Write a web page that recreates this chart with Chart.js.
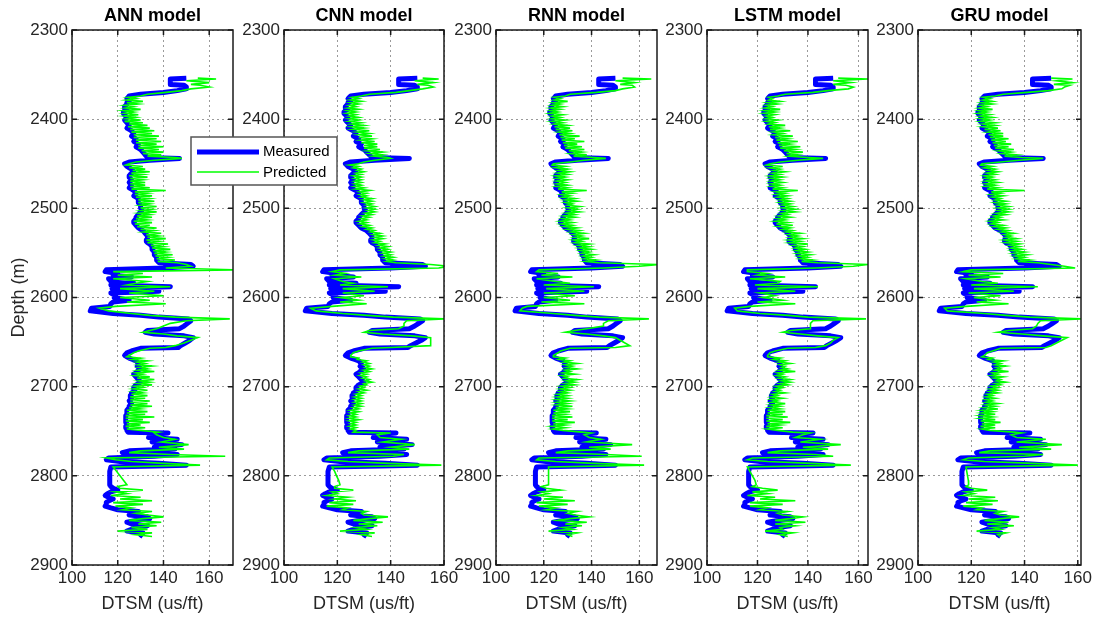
<!DOCTYPE html>
<html>
<head>
<meta charset="utf-8">
<script src="https://cdn.jsdelivr.net/npm/chart.js"></script>
<style>
  html, body { margin: 0; padding: 0; background: #fff; }
  #wrap { position: relative; width: 1095px; height: 617px; overflow: hidden; }
  #wrap canvas { position: absolute; left: 0; top: 0; }
</style>
</head>
<body>
<div id="wrap"></div>
<script>
const models = ["ANN model", "CNN model", "RNN model", "LSTM model", "GRU model"];
const depthTicks = [2300, 2400, 2500, 2600, 2700, 2800, 2900];
const dtsmTicks = [100, 120, 140, 160];
const dtsmMax = [170.4, 160, 167.4, 163.8, 161.2];

// depth (m) of every sample, shared by all curves
const depth = [
  // top block
  2354,2355,2357,2359,2361,2362,2364,2366,2368,2370,2372,
  // 2374 - 2561
  2374,2375.5,2377,2378.5,2380,2381.5,2383,2384.5,2386,2387.5,
  2389,2390.5,2392,2393.5,2395,2396.5,2398,2399.5,2401,2402.5,
  2404,2405.5,2407,2408.5,2410,2411.5,2413,2414.5,2416,2417.5,
  2419,2420.5,2422,2423.5,2425,2426.5,2428,2429.5,2431,2432.5,
  2434,2435.5,2437,2438.5,2440,2441.5,2443,
  2444,2446,2448,2450,
  2451.5,2453,2454.5,2456,2457.5,2459,2460.5,2462,2463.5,2465,
  2466.5,2468,2469.5,2471,2472.5,2474,2475.5,2477,2478.5,2480,
  2481.5,2483,2484.5,2486,2487.5,2489,2490.5,2492,2493.5,2495,
  2496.5,2498,2499.5,2501,2502.5,2504,2505.5,2507,2508.5,2510,
  2511.5,2513,2514.5,2516,2517.5,2519,2520.5,2522,2523.5,2525,
  2526.5,2528,2529.5,2531,2532.5,2534,2535.5,2537,2538.5,2540,
  2541.5,2543,2544.5,2546,2547.5,2549,2550.5,2552,2553.5,2555,
  2556.5,2558,2559.5,2561,
  // 2563 - 2656
  2563,2565,2567,2569,2571,2573,2575,2577,2579,2582,
  2584,2586,2588,2590,2593,2595,2598,2600,2603,2605,
  2607,2610,2612,2615,2618,2620,2622,2624,2626,2629,
  2632,2635,2637,2639,2641,2643,2645,2648,2651,2654,
  2656,
  // 2657 - 2751
  2657,2660,2662,2665,
  2666.5,2668,2669.5,2671,2672.5,2674,2675.5,2677,2678.5,2680,
  2681.5,2683,2684.5,2686,2687.5,2689,2690.5,2692,2693.5,2695,
  2696.5,2698,2699.5,2701,2702.5,2704,2705.5,2707,2708.5,2710,
  2711.5,2713,2714.5,2716,2717.5,2719,2720.5,2722,2723.5,2725,
  2726.5,2728,2729.5,2731,2732.5,2734,2735.5,2737,2738.5,2740,
  2741.5,2743,2744.5,2746,2747.5,2749,
  2751,
  // 2752 - 2868
  2752,2754,2757,2759,2762,2765,2768,2770,2772,2774,
  2776,2778,2780,2782,2784,2786,2788,2790,2795,2800,
  2805,2810,2812,2814,2816,2818,2820,2822,2824,2826,
  2828,2830,2832,2834,2836,2838,2840,2842,2844,2846,
  2848,2850,2852,2854,2856,2858,2860,2862,2864,2866,
  2868
];

// measured DTSM (us/ft)
const measured = [
  150,143,143,143,143,149,150,150,146,140,130,
  125,124.5,124,124.5,125,124,124,123.5,123,123,
  124,123,122.5,122.5,123,123.5,124,123.5,123,123.5,
  124,124.5,125,124.5,124,125,126,126.5,127,126.5,
  126,127,128,127.5,127,128,129,128.5,128,129,
  130,130.5,131,131.5,132,132.5,133,
  147,134,125,123,
  123.5,124,125,126,126.5,127,126,125.5,125,125,
  125.5,126,125.5,125,125.5,126,125.5,125,126,127,
  127.5,128,127.5,127,128,129,129,129,129,129.5,
  130,130,130,130.5,130.5,130,129.5,129,128.5,128,
  128,127.5,127,127,127.5,128,128.5,129,130,131,
  131.5,132,132.5,133,133,133,132.5,132.5,133,134,
  134.5,135,135,135,135.5,136,136,136,136.5,137,
  137,137,137.5,138,
  152,153,140,115,114.5,120,118,126,116,117,
  127,117,143,117.5,138,117,119,118.5,125,118,
  117,116.5,108.5,108,118,130,138,151,152,150.5,
  149,147,133,132,136,149,153,151.5,149.5,147.5,
  146.5,
  130,126,124,123,
  124,125,126.5,128,128.5,129,129,128.5,129.5,130,
  129,128.5,128,127,127.5,128,128.5,129,129.5,130,
  129,128,127.5,127,127,127.5,127,126,126,125.5,
  125.5,126,125.5,125,125.5,126,125.5,125,125,124.5,
  124,124,124,124,123.5,123.5,123.5,123.5,123.5,123.5,
  124,124,123.5,123.5,124,124,
  124.5,
  142,134,133.5,146,135,148,136,145,125,122,
  146,136,116,115,121,138,150,117,116.5,116.5,
  116.5,116.5,117,118,120,117,115.5,114.5,116,118,
  116,115,115,114.5,117,120,129,127,125,133,
  134,128,124,126,133,128,126,124,131,130,
  131
];

const annPred = [
  155,163,150,160,152,156,160,152,148,141,133,
  130,124.5,128,124,131,124,129,123,127,123.5,
  130,122.5,127,123,129,123,128,124,130,123,
  131,125,133,124.5,134,125.5,136,126,135,127,
  138,127,137,128,139,128,137,129,140,129,
  138,130.5,140,131,139,133,145,
  148,136,128,125,
  123.5,131,125,132,126.5,134,126,131,125,133,
  125.5,131,125.5,132,125.5,132,125.5,134,126,141,
  127.5,133,127.5,135,128,134,129,136,129,134,
  130,137,130,135,130.5,137,129.5,134,128.5,135,
  128,133,127,135,127.5,134,128.5,137,130,136,
  131.5,139,132.5,138,133,141,132.5,138,133,142,
  134.5,140,135,143,135.5,141,136,144,136.5,142,
  137,145,137.5,146,
  150,152,141,172,118,131,120,135,118,133,
  128,124,143,121,136,125,140,121,134,124,
  141,119,112,116,126,134,145,169,150,143,
  140,137,134,131,140,146,155,152,149,145,
  141,
  134,129,127,125,
  124,130,126.5,133,128.5,132,129,135,129.5,133,
  129,136,128,131,127.5,134,128.5,136,129.5,134,
  129,135,127.5,131,127,133,127,131,126,133,
  125.5,132,125.5,134,125.5,133,125.5,135,125,130,
  124,133,124,132,123.5,136,123.5,131,123.5,134,
  124,130,123.5,132,124,130,
  138,
  136,137,140,145,139,151,138,149,130,125,
  143,167,115,119,126,140,156,118,119.5,121,
  122.5,124,120,121,131,119,124,117,130,121,
  135,118,131,119,126,122,135,128,133,140,
  131,125,139,129,137,126,133,120,135,128,
  135
];

const cnnPred = [
  152,158,149,156,150,154,156,152,147,142,132,
  129,125.5,128,125,129,125,128,124.5,127,124,
  128,124,127,123.5,127,124.5,128,124.5,128,124.5,
  129,125.5,130,125.5,130,126,132,127.5,132,128,
  133,128,133,129,134,129,135,130,135,130,
  136,131.5,137,132.5,137,133.5,139,
  140,134,130,128,
  124.5,128,126,129,127.5,130,127,129,126,129,
  126.5,129,126.5,129,126.5,129,126.5,130,127,132,
  128.5,131,128.5,131,129,133,130,133,130,133,
  131,134,131,134,131.5,134,130.5,133,129.5,132,
  129,131,128,131,128.5,132,129.5,133,131,134,
  132.5,136,133.5,137,134,137,133.5,136,134,138,
  135.5,139,136,139,136.5,140,137,140,137.5,141,
  138,141,138.5,142,
  155,162,158,121,118,123,119,129,119,122,
  126,121,139,122,134,122,130,121,128,121,
  131,118,110,112,122,131,141,160,146,145,
  145,143,132,130,137,148,155,155,155,155,
  140,
  133,128,126,125,
  125,128,127.5,131,129.5,132,130,132,130.5,133,
  130,132,129,131,128.5,131,129.5,132,130.5,133,
  130,131,128.5,130,128,131,128,130,127,129,
  126.5,129,126.5,129,126.5,129,126.5,129,126,128,
  125,128,125,127,124.5,127,124.5,128,124.5,127,
  125,127,124.5,127,125,127,
  126,
  140,135,136,144,137,149,140,147,128,124,
  145,141,117,116,124,139,159,118,119,119.7,
  120.5,121,119,119,126,118,120,116,124,119,
  127,117,126,116,124,122,131,129,130,139,
  132,126,137,128,135,127,131,121,134,129,
  133
];

const rnnPred = [
  153,165,150,158,152,157,158,153,150,142,131,
  129,124.5,127,124.5,130,124,127,123.5,128,123,
  127,123,126,122.5,128,123.5,127,123.5,129,123.5,
  128,124.5,130,124.5,131,125,132,126.5,131,126.5,
  135,127,133,127.5,137,128,134,128.5,136,129,
  137,130.5,136,131.5,138,132.5,141,
  146,137,131,124,
  123.5,129,125,130,126.5,131,126,130,125,129,
  125.5,130,125.5,129,125.5,130,125.5,130,126,138,
  127.5,132,127.5,131,128,133,129,134,129,132,
  130,135,130,134,130.5,135,129.5,133,128.5,133,
  128,131,127,132,127.5,132,128.5,134,130,135,
  131.5,137,132.5,136,133,139,132.5,136,133,139,
  134.5,139,135,140,135.5,139,136,141,136.5,140,
  137,142,137.5,143,
  168,160,145,118,117,126,119,132,117,125,
  131,120,141,121,137,120,133,120,131,119,
  137,113,111,110,124,133,143,164,147,145,
  145,138,133,129,138,145,150,152,154,156,
  150,
  131,127,126,124,
  124,129,126.5,131,128.5,134,129,132,129.5,134,
  129,131,128,133,127.5,130,128.5,134,129.5,133,
  129,133,127.5,131,127,131,127,130,126,130,
  125.5,130,125.5,131,125.5,130,125.5,132,125,130,
  124,131,124,129,123.5,132,123.5,130,123.5,133,
  124,129,123.5,129,124,128,
  136,
  140,137,139,144,138,157,139,148,130,125,
  146,161,118,117,125,141,162,122,122,122,
  122,122,119,121,127,119,122,117,128,120,
  133,117,130,118,125,121,134,130,133,139,
  131,126,138,129,136,128,132,122,134,130,
  132
];

const lstmPred = [
  152,164,150,157,150,155,158,156,148,142,131,
  128,124.5,126,124.5,129,124,128,123.5,126,123,
  129,123,127,122.5,127,123.5,126,123.5,128,123.5,
  127,124.5,131,124.5,129,125,133,126.5,130,126.5,
  134,127,132,127.5,136,128,133,128.5,137,129,
  135,130.5,138,131.5,136,132.5,140,
  146,136,129,125,
  123.5,130,125,129,126.5,131,126,129,125,130,
  125.5,129,125.5,130,125.5,129,125.5,130,126,136,
  127.5,131,127.5,132,128,132,129,133,129,133,
  130,134,130,135,130.5,135,129.5,132,128.5,133,
  128,131,127,132,127.5,134,128.5,133,130,134,
  131.5,137,132.5,136,133,138,132.5,137,133,140,
  134.5,138,135,139,135.5,140,136,141,136.5,140,
  137,142,137.5,144,
  164,158,143,116,116,124,120,131,117,129,
  128,119,144,120,135,121,127,122,130,120,
  135,117,111,112,121,132,140,163,142,141,
  141,141,133,130,137,144,152,150,149,147,
  143,
  132,127,125,124,
  124,129,126.5,131,128.5,133,129,131,129.5,132,
  129,135,128,130,127.5,131,128.5,133,129.5,133,
  129,132,127.5,130,127,129,127,131,126,128,
  125.5,130,125.5,128,125.5,131,125.5,129,125,129,
  124,131,124,130,123.5,132,123.5,130,123.5,133,
  124,129,123.5,130,124,128,
  134,
  141,138,135,145,137,153,138,148,129,124,
  143,150,118,116,124,141,157,116,117,118,
  119,119.5,118,122,128,118,124,116,127,121,
  135,117,130,117,124,121,132,128,130,138,
  133,127,139,127,135,129,130,123,134,129,
  132
];

const gruPred = [
  150,158,152,158,151,157,155,154,149,141,132,
  129,124.5,127,124.5,128,124,128,123.5,126,123,
  128,123,126,122.5,127,123.5,128,123.5,127,123.5,
  129,124.5,129,124.5,130,125,131,126.5,132,126.5,
  132,127,134,127.5,133,128,135,128.5,134,129,
  136,130.5,135,131.5,137,132.5,139,
  147,138,131,124,
  123.5,128,125,129,126.5,130,126,129,125,128,
  125.5,129,125.5,130,125.5,129,125.5,130,126,140,
  127.5,131,127.5,132,128,131,129,133,129,133,
  130,134,130,134,130.5,134,129.5,133,128.5,131,
  128,132,127,130,127.5,132,128.5,133,130,134,
  131.5,136,132.5,135,133,137,132.5,137,133,138,
  134.5,138,135,139,135.5,140,136,141,136.5,140,
  137,142,137.5,145,
  150,155,159,120,117,132,119,131,118,124,
  130,120,145,121,136,119,131,121,129,122,
  134,118,110,111,125,133,142,162,146,145,
  144.5,143,134,130,139,147,156,154,152,150,
  148,
  131,128,126,125,
  124,128,126.5,132,128.5,131,129,133,129.5,131,
  129,134,128,130,127.5,132,128.5,131,129.5,133,
  129,131,127.5,130,127,130,127,130,126,128,
  125.5,129,125.5,128,125.5,130,125.5,129,125,130,
  124,128,124,129,123.5,128,123.5,129,123.5,131,
  124,129,123.5,129,124,127,
  136,
  139,135,137,148,137,154,138,150,127,123,
  147,140,119,117,125,143,160,118,118.3,118.6,
  118.9,119,118,120,126,118,121,117,129,119,
  130,118,128,117,124,122,132,129,131,138,
  131,125,134,126,136,128,131,122,133,130,
  131
];

const predicted = [annPred, cnnPred, rnnPred, lstmPred, gruPred];

// page layout of the five plot boxes
const W = 1095, H = 617;
const plotLeft = [72, 284, 496, 707, 918];
const plotRight = [233, 444, 657, 868, 1081];
const plotTop = 30, plotBottom = 565;
const xAxisH = 50;

Chart.defaults.font.family = '"Liberation Sans", Arial, Helvetica, sans-serif';

// black box round the plot with inward tick marks (matlab style)
const boxPlugin = {
  id: "box",
  afterDraw(chart) {
    const { ctx, chartArea: a, scales } = chart;
    ctx.save();
    ctx.strokeStyle = "#1a1a1a";
    ctx.lineWidth = 1.5;
    ctx.beginPath();
    depthTicks.forEach(v => {
      const py = scales.y.getPixelForValue(v);
      ctx.moveTo(a.left, py); ctx.lineTo(a.left + 5, py);
      ctx.moveTo(a.right, py); ctx.lineTo(a.right - 5, py);
    });
    dtsmTicks.forEach(v => {
      const px = scales.x.getPixelForValue(v);
      ctx.moveTo(px, a.top); ctx.lineTo(px, a.top + 5);
      ctx.moveTo(px, a.bottom); ctx.lineTo(px, a.bottom - 5);
    });
    ctx.stroke();
    ctx.strokeRect(a.left, a.top, a.right - a.left, a.bottom - a.top);
    ctx.restore();
  }
};

// legend box sitting between the first two panels
const legendPlugin = {
  id: "legendBox",
  afterDraw(chart) {
    const ctx = chart.ctx;
    const bx = 191, by = 137, bw = 146, bh = 48;
    ctx.save();
    ctx.fillStyle = "#fff";
    ctx.fillRect(bx, by, bw, bh);
    ctx.strokeStyle = "#555";
    ctx.lineWidth = 1.5;
    ctx.strokeRect(bx, by, bw, bh);

    ctx.lineCap = "butt";
    ctx.strokeStyle = "#0000ff";
    ctx.lineWidth = 5;
    ctx.beginPath(); ctx.moveTo(bx + 6, by + 15); ctx.lineTo(bx + 68, by + 15); ctx.stroke();
    ctx.strokeStyle = "#00ff00";
    ctx.lineWidth = 1.6;
    ctx.beginPath(); ctx.moveTo(bx + 6, by + 35); ctx.lineTo(bx + 68, by + 35); ctx.stroke();

    ctx.fillStyle = "#000";
    ctx.font = '15px "Liberation Sans", Arial, sans-serif';
    ctx.textBaseline = "middle";
    ctx.fillText("Measured", bx + 72, by + 15);
    ctx.fillText("Predicted", bx + 72, by + 36);
    ctx.restore();
  }
};

const wrap = document.getElementById("wrap");

function makePanel(i) {
  const canvas = document.createElement("canvas");
  canvas.width = W;
  canvas.height = H;
  wrap.appendChild(canvas);
  const yw = i === 0 ? 64 : 45;

  new Chart(canvas, {
    type: "scatter",
    data: {
      datasets: [
        {
          label: "Measured",
          data: depth.map((d, k) => ({ x: measured[k], y: d })),
          showLine: true,
          borderColor: "#0000ff",
          borderWidth: 5,
          borderJoinStyle: "round",
          pointRadius: 0,
          order: 2
        },
        {
          label: "Predicted",
          data: depth.map((d, k) => ({ x: predicted[i][k], y: d })),
          showLine: true,
          borderColor: "#00ff00",
          borderWidth: 1.6,
          pointRadius: 0,
          order: 1
        }
      ]
    },
    options: {
      responsive: false,
      animation: false,
      events: [],
      layout: {
        padding: {
          left: plotLeft[i] - yw,
          right: W - plotRight[i],
          top: plotTop - (18 * 1.2 + 3),
          bottom: H - plotBottom - xAxisH
        }
      },
      plugins: {
        legend: { display: false },
        tooltip: { enabled: false },
        title: {
          display: true,
          text: models[i],
          fullSize: false,
          color: "#000",
          font: { size: 18, weight: "bold" },
          padding: { top: 0, bottom: 3 }
        }
      },
      scales: {
        x: {
          type: "linear",
          position: "bottom",
          min: 100,
          max: dtsmMax[i],
          afterBuildTicks: s => { s.ticks = dtsmTicks.map(v => ({ value: v })); },
          afterFit: s => { s.height = xAxisH; s.paddingLeft = 0; s.paddingRight = 0; },
          grid: { color: "#9a9a9a", lineWidth: 1, drawTicks: false },
          border: { display: false, dash: [2, 3] },
          ticks: { color: "#262626", font: { size: 17 }, padding: 3, autoSkip: false, maxRotation: 0, callback: v => String(v) },
          title: { display: true, text: "DTSM (us/ft)", color: "#262626", font: { size: 18 }, padding: { top: 0, bottom: 0 } }
        },
        y: {
          type: "linear",
          reverse: true,
          min: 2300,
          max: 2900,
          afterBuildTicks: s => { s.ticks = depthTicks.map(v => ({ value: v })); },
          afterFit: s => { s.width = yw; s.paddingTop = 0; s.paddingBottom = 0; },
          grid: { color: "#9a9a9a", lineWidth: 1, drawTicks: false },
          border: { display: false, dash: [2, 3] },
          ticks: { color: "#262626", font: { size: 17 }, padding: 4, autoSkip: false, callback: v => String(v) },
          title: { display: i === 0, text: "Depth (m)", color: "#262626", font: { size: 18 }, padding: { top: 0, bottom: 0 } }
        }
      }
    },
    plugins: i === 1 ? [boxPlugin, legendPlugin] : [boxPlugin]
  });
}

models.forEach((m, i) => makePanel(i));
</script>
</body>
</html>
